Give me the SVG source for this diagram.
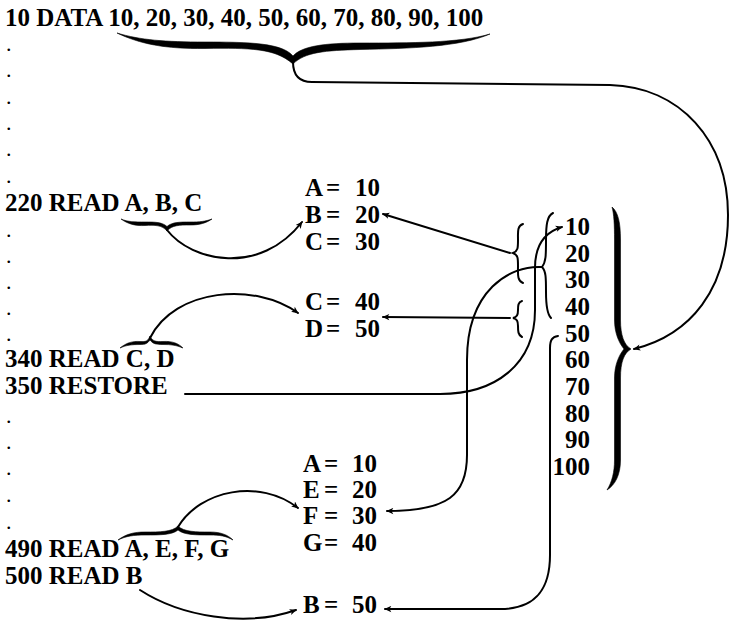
<svg xmlns="http://www.w3.org/2000/svg" width="729" height="620" viewBox="0 0 729 620">
<style>
text{font-family:"Liberation Serif","Times New Roman",serif;font-weight:bold;font-size:25px;fill:#000}
.dot{font-weight:normal;font-size:22px}
.num{text-anchor:end}
.sp{font-size:5px}
.conn{fill:none;stroke:#000;stroke-width:2;stroke-linecap:round;stroke-linejoin:round}
.brace{fill:#000;stroke:#000;stroke-width:0.6;stroke-linejoin:round}
.sb{fill:none;stroke:#000;stroke-width:2;stroke-linecap:round}
</style>
<defs>
<marker id="ah" viewBox="0 0 10 10" refX="9" refY="5" markerWidth="10" markerHeight="7" markerUnits="userSpaceOnUse" orient="auto"><path d="M0,0.5 L10,5 L0,9.5 L2.5,5 Z" fill="#000"/></marker>
</defs>
<rect width="729" height="620" fill="#fff"/>

<g id="program">
<text x="5" y="26">10 DATA 10, 20, 30, 40, 50, 60, 70, 80, 90, 100</text>
<text class="dot" x="6" y="51">.</text>
<text class="dot" x="6" y="77">.</text>
<text class="dot" x="6" y="104">.</text>
<text class="dot" x="6" y="130">.</text>
<text class="dot" x="6" y="156">.</text>
<text class="dot" x="6" y="183">.</text>
<text x="5" y="211">220 READ A, B, C</text>
<text class="dot" x="6" y="237">.</text>
<text class="dot" x="6" y="263">.</text>
<text class="dot" x="6" y="289">.</text>
<text class="dot" x="6" y="315">.</text>
<text class="dot" x="6" y="341">.</text>
<text x="5" y="367">340 READ C, D</text>
<text x="5" y="394">350 RESTORE</text>
<text class="dot" x="6" y="423">.</text>
<text class="dot" x="6" y="449">.</text>
<text class="dot" x="6" y="475">.</text>
<text class="dot" x="6" y="502">.</text>
<text class="dot" x="6" y="529">.</text>
<text x="5" y="557">490 READ A, E, F, G</text>
<text x="5" y="584">500 READ B</text>
</g>

<g id="values-abc">
<text y="196"><tspan x="305">A</tspan><tspan class="sp"> </tspan><tspan x="326">=</tspan><tspan class="sp"> </tspan><tspan x="355">10</tspan></text>
<text y="223"><tspan x="305">B</tspan><tspan class="sp"> </tspan><tspan x="326">=</tspan><tspan class="sp"> </tspan><tspan x="355">20</tspan></text>
<text y="250"><tspan x="305">C</tspan><tspan class="sp"> </tspan><tspan x="326">=</tspan><tspan class="sp"> </tspan><tspan x="355">30</tspan></text>
</g>
<g id="values-cd">
<text y="310"><tspan x="305">C</tspan><tspan class="sp"> </tspan><tspan x="326">=</tspan><tspan class="sp"> </tspan><tspan x="355">40</tspan></text>
<text y="337"><tspan x="305">D</tspan><tspan x="326">=</tspan><tspan class="sp"> </tspan><tspan x="355">50</tspan></text>
</g>
<g id="values-aefg">
<text y="472"><tspan x="303">A</tspan><tspan x="324">=</tspan><tspan class="sp"> </tspan><tspan x="352">10</tspan></text>
<text y="498"><tspan x="303">E</tspan><tspan class="sp"> </tspan><tspan x="324">=</tspan><tspan class="sp"> </tspan><tspan x="352">20</tspan></text>
<text y="524"><tspan x="303">F</tspan><tspan class="sp"> </tspan><tspan x="324">=</tspan><tspan class="sp"> </tspan><tspan x="352">30</tspan></text>
<text y="551"><tspan x="303">G</tspan><tspan x="324">=</tspan><tspan class="sp"> </tspan><tspan x="352">40</tspan></text>
</g>
<g id="value-b">
<text y="613"><tspan x="303">B</tspan><tspan class="sp"> </tspan><tspan x="324">=</tspan><tspan class="sp"> </tspan><tspan x="352">50</tspan></text>
</g>

<g id="data-list">
<text class="num" x="590" y="235">10</text>
<text class="num" x="590" y="262">20</text>
<text class="num" x="590" y="288">30</text>
<text class="num" x="590" y="315">40</text>
<text class="num" x="590" y="342">50</text>
<text class="num" x="590" y="368">60</text>
<text class="num" x="590" y="395">70</text>
<text class="num" x="590" y="422">80</text>
<text class="num" x="590" y="448">90</text>
<text class="num" x="590" y="475">100</text>
</g>

<g id="braces">
<path id="brace-data" class="brace" d="M117,33 C140,44 165,49 205,48.5 C250,48 275,48 293,64 C305,52 325,50.5 360,49.5 C410,48.5 460,47 490,34 C460,43 410,43 360,43 C325,43 302,46 293,56 C282,43 250,42 205,42 C165,42 140,40 117,33 Z"/>
<path id="brace-list" class="brace" d="M612,207 C618,212 620.5,222 620.5,240 L620.5,320 C620.5,335 624,345 631,349 C624,353 620.5,362 620.5,378 L620.5,460 C620.5,475 615,485 607,490 C612,482 614.5,472 614.5,460 L614.5,378 C614.5,365 619,355 624,349 C619,343 614.5,333 614.5,320 L614.5,240 C614.5,225 614,214 612,207 Z"/>
<path id="brace-abc" class="brace" d="M121,219 C128,224 135,226 145,225.5 C155,225 162,225 167,231 C172,225 180,225 190,225 C200,225 206,223 212,219 C205,221.5 200,222 190,222 C180,222 172,222 167,226.5 C162,222 155,222 145,222 C135,222 128,222 121,219 Z"/>
<path id="brace-cd" class="brace" d="M120,348 C126,343 132,341 140,341.5 C146,342 148,341 150,336 C152,341 156,342 163,341.5 C172,341 178,343 183,348 C176,345 171,344.5 163,344.5 C156,344.5 153,344 150,340 C147,344 145,344.5 140,344.5 C132,344.5 126,345 120,348 Z"/>
<path id="brace-aefg" class="brace" d="M118,540 C126,534 134,532 145,532 C160,532 172,532 178,526 C184,532 196,532 210,532 C221,532 228,535 233,540 C226,536 220,535 210,535 C196,535 184,535 178,530 C172,535 160,535 145,535 C134,535 126,536 118,540 Z"/>
<path id="brace-10-30" class="sb" d="M523,224 C517,226 518,232 518,240 C518,248 518,251 513,253 C518,255 518,258 518,266 C518,274 517,281 523,283"/>
<path id="brace-40-50" class="sb" d="M522,301 C518,302 518,306 518,310 C518,315 517,317 513,318 C517,319 518,321 518,326 C518,331 518,335 522,337"/>
<path id="brace-10-40" class="sb" d="M553,213 C547,216 546,225 546,240 C546,255 546,262 542,267 C546,271 546,278 546,292 C546,306 547,314 551,318"/>
</g>

<g id="connectors">
<path class="conn" marker-end="url(#ah)" d="M293,62 C293,74 298,82 312,82 L610,85 C680,87 728,140 728,215 C728,290 690,335 634,349"/>
<path class="conn" marker-end="url(#ah)" d="M167,230 C192,262 260,276 302,222"/>
<path class="conn" marker-end="url(#ah)" d="M150,338 C175,288 255,282 298,313"/>
<path class="conn" marker-end="url(#ah)" d="M178,527 C200,490 260,478 298,508"/>
<path class="conn" marker-end="url(#ah)" d="M140,590 C180,616 245,628 296,610"/>
<path class="conn" marker-end="url(#ah)" d="M510,253 L383,214"/>
<path class="conn" marker-end="url(#ah)" d="M510,318 L383,317"/>
<path class="conn" marker-end="url(#ah)" d="M185,394 L440,394 C495,394 535,365 535,310 L535,268 C535,245 545,232 562,227"/>
<path class="conn" marker-end="url(#ah)" d="M542,267 C510,265 467,290 467,360 L467,455 C467,495 448,511 387,511"/>
<path class="conn" marker-end="url(#ah)" d="M558,336 C552,337 550,340 550,348 L550,555 C550,590 535,609 500,609 L385,609"/>
</g>
</svg>
